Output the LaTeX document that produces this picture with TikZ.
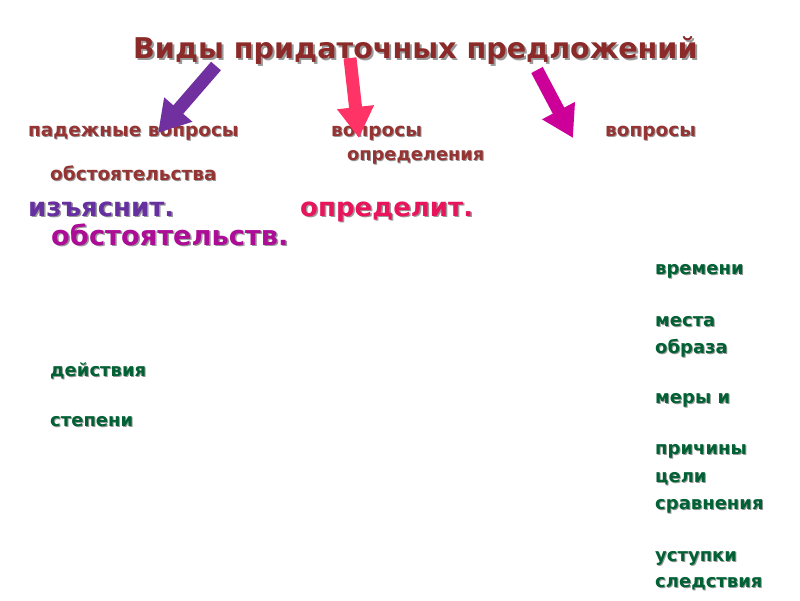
\documentclass[tikz,border=0pt]{standalone}
\usepackage{fontspec}
\usepackage{xcolor}
\setmainfont{DejaVu Sans}
\usetikzlibrary{arrows.meta, positioning}

\definecolor{titlered}{RGB}{140,42,42}
\definecolor{labelred}{RGB}{150,52,52}
\definecolor{kindpurple}{RGB}{102,48,160}
\definecolor{kindcrimson}{RGB}{232,20,92}
\definecolor{kindmagenta}{RGB}{172,12,150}
\definecolor{kindgreen}{RGB}{0,98,52}
\definecolor{arrowpurple}{RGB}{112,48,160}
\definecolor{arrowred}{RGB}{255,51,102}
\definecolor{arrowmagenta}{RGB}{204,0,153}

\newcommand{\shadowed}[2]{\makebox[0pt][l]{\hspace{#1}\raisebox{-#1}{\textcolor{black!40}{#2}}}#2}

\begin{document}
\begin{tikzpicture}[
			x=1pt, y=-1pt,
			every node/.style={anchor=base west, inner sep=0pt, font=\bfseries},
			title/.style={text=titlered, font=\bfseries\fontsize{28.6}{34}\selectfont},
			question/.style={text=labelred, font=\bfseries\fontsize{18.5}{22}\selectfont},
			kind/.style={font=\bfseries\fontsize{26}{31}\selectfont},
			meaning/.style={text=kindgreen, font=\bfseries\fontsize{18}{22}\selectfont},
			fatarrow/.style={line width=13pt, -{Triangle[width=35pt,length=31pt]}}
			]
			\useasboundingbox[fill=white] (0,0) rectangle (800,600);
			
			% Nodes
			\node (title) [title] at (133,58) {\shadowed{2pt}{Виды придаточных предложений}};
			\node (q_case) [question] at (28,136) {\shadowed{1pt}{падежные вопросы}};
			\node (q_attr) [question] at (331,136) {\shadowed{1pt}{вопросы}};
			\node (q_attr2) [question, font=\bfseries\fontsize{17.8}{22}\selectfont] at (347,160) {\shadowed{1pt}{определения}};
			\node (q_adv) [question] at (605,136) {\shadowed{1pt}{вопросы}};
			\node (q_adv2) [question] at (50,180) {\shadowed{1pt}{обстоятельства}};
			
			\node (explain) [kind, text=kindpurple] at (28,216) {\shadowed{1.5pt}{изъяснит.}};
			\node (define) [kind, text=kindcrimson] at (300,216) {\shadowed{1.5pt}{определит.}};
			\node (circum) [kind, text=kindmagenta, font=\bfseries\fontsize{27.3}{32}\selectfont] at (51,245) {\shadowed{1.5pt}{обстоятельств.}};
			
			\node (time) [meaning] at (655,274) {\shadowed{1pt}{времени}};
			\node (place) [meaning] at (655,326) {\shadowed{1pt}{места}};
			\node (manner) [meaning] at (655,353) {\shadowed{1pt}{образа}};
			\node (action) [meaning] at (50,376) {\shadowed{1pt}{действия}};
			\node (measure) [meaning] at (655,403) {\shadowed{1pt}{меры и}};
			\node (degree) [meaning] at (50,426) {\shadowed{1pt}{степени}};
			\node (cause) [meaning] at (655,454) {\shadowed{1pt}{причины}};
			\node (purpose) [meaning] at (655,482) {\shadowed{1pt}{цели}};
			\node (compare) [meaning] at (655,509) {\shadowed{1pt}{сравнения}};
			\node (concess) [meaning] at (655,561) {\shadowed{1pt}{уступки}};
			\node (result) [meaning] at (655,587) {\shadowed{1pt}{следствия}};
			
			% Arrows
			\coordinate (purple_tail) at (216,66);
			\coordinate (purple_tip) at (158,133);
			\coordinate (red_tail) at (350,58);
			\coordinate (red_tip) at (359,138);
			\coordinate (magenta_tail) at (537,70);
			\coordinate (magenta_tip) at (573,138);
			
			% Connections
			\draw [fatarrow, arrowpurple] (purple_tail) -- (purple_tip);
			\draw [fatarrow, arrowred] (red_tail) -- (red_tip);
			\draw [fatarrow, arrowmagenta] (magenta_tail) -- (magenta_tip);
			
		\end{tikzpicture}
\end{document}
